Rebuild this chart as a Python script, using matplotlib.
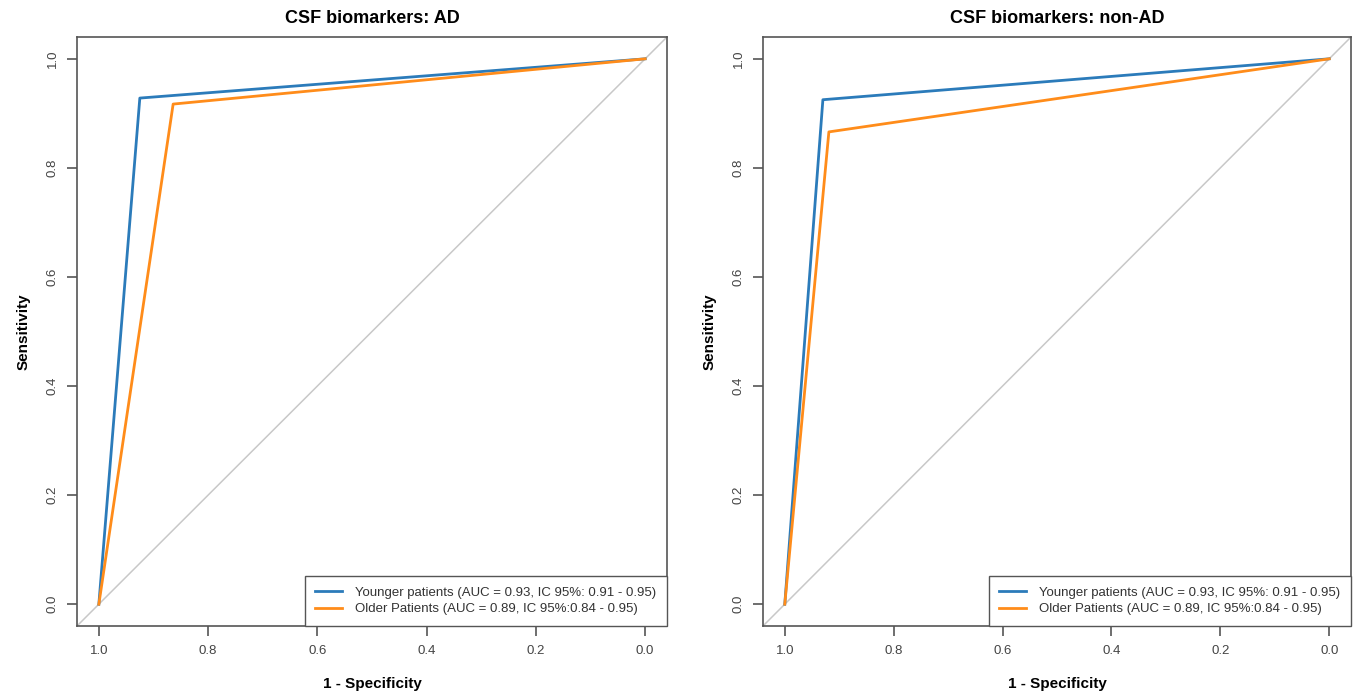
import matplotlib

matplotlib.use("Agg")
import matplotlib.pyplot as plt  # noqa: E402

plt.rcParams["font.family"] = ["Liberation Sans", "DejaVu Sans"]

# ROC points: specificity (x, reversed axis) and sensitivity (y)
titles = ["CSF biomarkers: AD", "CSF biomarkers: non-AD"]
labels = [
    "Younger patients (AUC = 0.93, IC 95%: 0.91 - 0.95)",
    "Older Patients (AUC = 0.89, IC 95%:0.84 - 0.95)",
]
young_spec = [[1.0, 0.925, 0.0], [1.0, 0.930, 0.0]]
young_sens = [[0.0, 0.928, 1.0], [0.0, 0.925, 1.0]]
old_spec = [[1.0, 0.864, 0.0], [1.0, 0.919, 0.0]]
old_sens = [[0.0, 0.917, 1.0], [0.0, 0.866, 1.0]]
ticks = [0.0, 0.2, 0.4, 0.6, 0.8, 1.0]
tick_labels = ["0.0", "0.2", "0.4", "0.6", "0.8", "1.0"]

BLUE = "#2b7bba"
ORANGE = "#ff8c1a"
AXC = "#555555"

fig = plt.figure(figsize=(13.54, 6.94), dpi=100)
positions = [
    [77 / 1354, 68 / 694, 590 / 1354, 589 / 694],
    [763 / 1354, 68 / 694, 588 / 1354, 589 / 694],
]

for i, pos in enumerate(positions):
    ax = fig.add_axes(pos)
    ax.set_xlim(1.04, -0.04)
    ax.set_ylim(-0.04, 1.04)
    ax.plot([1.2, -0.2], [-0.2, 1.2], color="#c8c8c8", lw=1.1, zorder=1)
    ax.plot(young_spec[i], young_sens[i], color=BLUE, lw=2, label=labels[0], zorder=3)
    ax.plot(old_spec[i], old_sens[i], color=ORANGE, lw=2, label=labels[1], zorder=3)

    ax.set_xticks(ticks)
    ax.set_xticklabels(tick_labels)
    ax.set_yticks(ticks)
    ax.set_yticklabels(tick_labels, rotation=90, va="center")
    ax.tick_params(direction="out", length=7, width=1.2, colors=AXC,
                   labelsize=9.5, labelcolor="#444444")
    ax.tick_params(axis="x", pad=7)
    ax.tick_params(axis="y", pad=6)
    for s in ax.spines.values():
        s.set_color(AXC)
        s.set_linewidth(1.2)

    ax.set_title(titles[i], fontsize=13, fontweight="bold", pad=10)
    ax.set_xlabel("1 - Specificity", fontsize=11, fontweight="bold", labelpad=14)
    ax.set_ylabel("Sensitivity", fontsize=11, fontweight="bold", labelpad=12)

    leg = ax.legend(loc="lower right", borderaxespad=0, fontsize=9.5,
                    handlelength=2.05, handletextpad=1.0, fancybox=False,
                    framealpha=1, borderpad=0.8, labelspacing=0.35)
    leg.get_frame().set_edgecolor(AXC)
    leg.get_frame().set_linewidth(1.0)
    for t in leg.get_texts():
        t.set_color("#333333")

fig.savefig("out.png", dpi=100)
